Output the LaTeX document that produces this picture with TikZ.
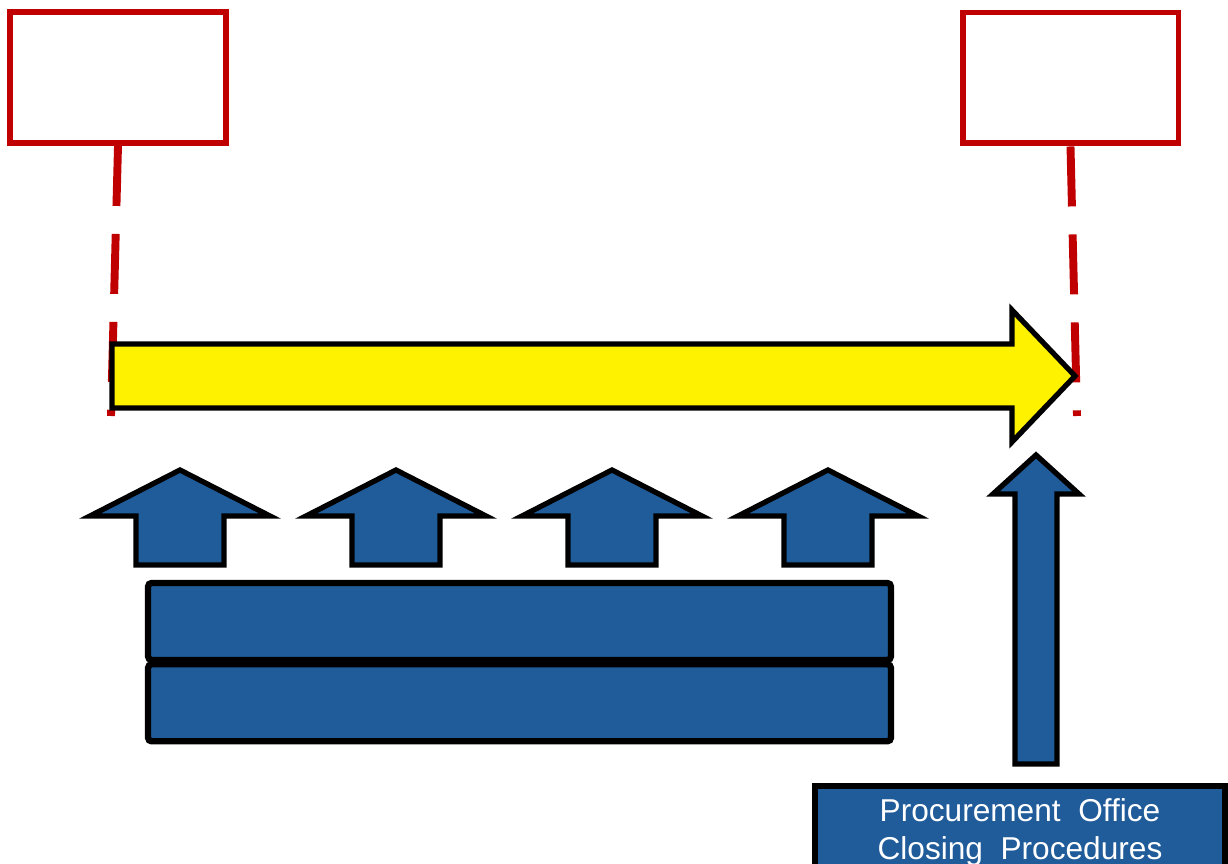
\documentclass[tikz,border=0pt]{standalone}
\usepackage{fontspec}
\setmainfont{Liberation Sans}
\definecolor{BarBlue}{HTML}{1F5C99}
\definecolor{MarkRed}{HTML}{C00000}
\usetikzlibrary{positioning}

\begin{document}
\begin{tikzpicture}[x=0.02cm, y=-0.02cm, line join=miter,
    markbox/.style={draw=MarkRed, line width=3.4pt, fill=white,
      minimum width=4.32cm, minimum height=2.62cm},
    markline/.style={MarkRed, line width=4.5pt, dash pattern=on 1.2cm off 0.56cm},
    flowarrow/.style={draw=black, fill=yellow, line width=3pt},
    blockarrow/.style={draw=black, fill=BarBlue, line width=3pt},
    bar/.style={draw=black, fill=BarBlue, line width=3.6pt, rounded corners=2pt,
      minimum width=14.86cm, minimum height=1.54cm}]
  \useasboundingbox (0,0) rectangle (1228,864);

  % milestone boxes and their markers
  \node[markbox] (startbox) at (118,77.5) {};
  \node[markbox] (endbox) at (1070.5,78) {};
  \coordinate (startend) at (111,416);
  \coordinate (endend) at (1077,416);
  \draw[markline] (startbox.south) -- (startend);
  \draw[markline] (endbox.south) -- (endend);

  % timeline arrow
  \draw[flowarrow] (112,344) -- (1012,344) -- (1012,310) -- (1075,376)
    -- (1012,442) -- (1012,408) -- (112,408) -- cycle;

  % inputs
  \foreach \cx in {180,396,612,828}
    \draw[blockarrow] (\cx-44,565) -- (\cx-44,516) -- (\cx-90,516) -- (\cx,470)
      -- (\cx+90,516) -- (\cx+44,516) -- (\cx+44,565) -- cycle;
  \draw[blockarrow] (1015,764) -- (1015,494) -- (993,494) -- (1036,455)
    -- (1079,494) -- (1057,494) -- (1057,764) -- cycle;

  \node[bar] (upperbar) at (519.5,621.5) {};
  \node[bar, below=-0.04cm of upperbar] (lowerbar) {};

  \node[draw=black, fill=BarBlue, line width=3.4pt, text=white,
    minimum width=8.2cm, minimum height=1.84cm, align=center,
    font=\fontsize{18}{21.6}\selectfont] (closing) at (1020,832)
    {Procurement~ Office\\Closing~ Procedures};
\end{tikzpicture}
\end{document}
